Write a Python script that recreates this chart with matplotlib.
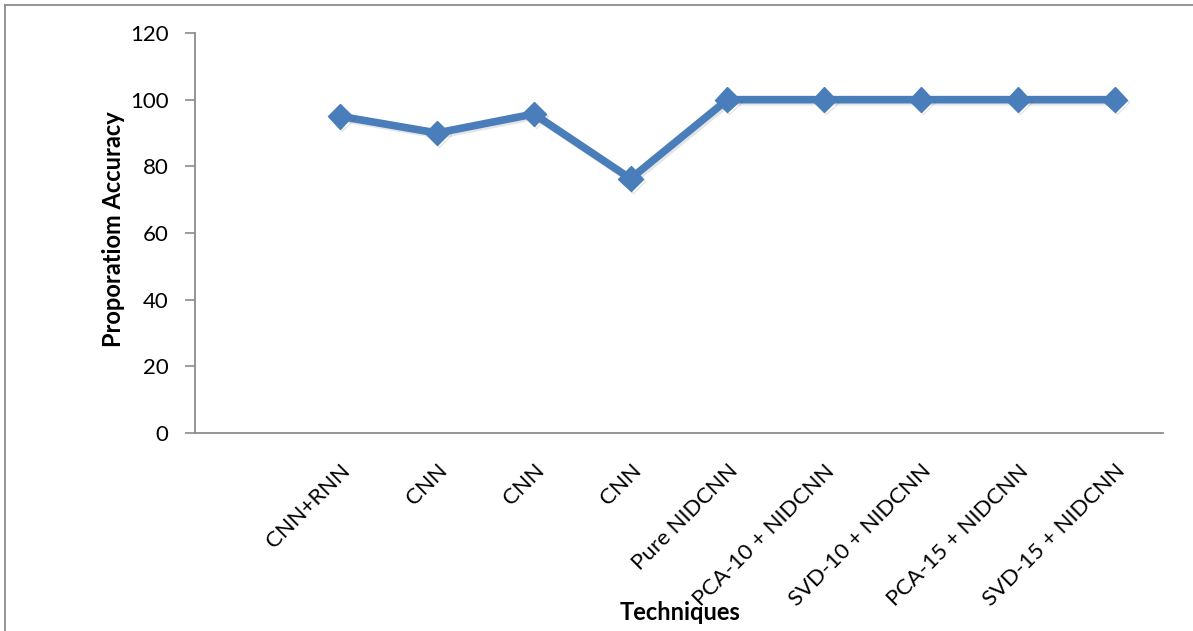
import matplotlib
matplotlib.use('Agg')
import matplotlib.pyplot as plt
import matplotlib.patheffects as pe
from matplotlib.lines import Line2D
from matplotlib.transforms import ScaledTranslation

# Datos (la primera categoría está vacía)
tecnicas = ['', 'CNN+RNN', 'CNN', 'CNN', 'CNN', 'Pure NIDCNN', 'PCA-10 + NIDCNN',
            'SVD-10 + NIDCNN', 'PCA-15 + NIDCNN', 'SVD-15 + NIDCNN']
precision = [None, 95, 90, 95.7, 76.3, 100, 100, 100, 100, 100]
y_ticks = [0, 20, 40, 60, 80, 100, 120]

plt.rcParams['font.family'] = ['Lato', 'DejaVu Sans']

fig = plt.figure(figsize=(11.93, 6.31), dpi=100)
ax = fig.add_axes([195 / 1193, 1 - 433 / 631, 968 / 1193, 400 / 631])

xs = [i for i, v in enumerate(precision) if v is not None]
ys = [v for v in precision if v is not None]
ax.plot(xs, ys, color='#4A7EBB', linewidth=5.5, marker='D', markersize=12.5,
        solid_joinstyle='miter',
        path_effects=[pe.SimpleLineShadow(offset=(1.5, -1.5), alpha=0.15, shadow_color='#555555'),
                      pe.Normal()])

ax.set_xlim(-0.5, len(tecnicas) - 0.5)
ax.set_ylim(0, 120)
ax.set_yticks(y_ticks)
ax.set_xticks(range(len(tecnicas)))
ax.set_xticklabels(tecnicas, rotation=45, ha='right', va='top',
                   rotation_mode='anchor', fontsize=16)
# desplazar las etiquetas un poco a la derecha, como en Excel
desplazamiento = ScaledTranslation(3 / 100, 0, fig.dpi_scale_trans)
for etiqueta in ax.get_xticklabels():
    etiqueta.set_transform(etiqueta.get_transform() + desplazamiento)

for s in ['top', 'right']:
    ax.spines[s].set_visible(False)
for s in ['left', 'bottom']:
    ax.spines[s].set_color('#8c8c8c')
    ax.spines[s].set_linewidth(1.3)

ax.tick_params(axis='y', direction='out', length=7, width=1.2, color='#8c8c8c',
               labelsize=16, pad=12)
ax.tick_params(axis='x', length=0, pad=20)

ax.set_ylabel('Proporatiom Accuracy', fontsize=17, fontweight='bold')
ax.yaxis.set_label_coords(-0.072, 0.51)
fig.text(680 / 1193, 1 - 612 / 631, 'Techniques', fontsize=17, fontweight='bold',
         ha='center', va='center')

# Marco del área del gráfico (solo borde izquierdo y superior visibles)
fig.add_artist(Line2D([5 / 1193, 5 / 1193], [0, 1 - 5 / 631], transform=fig.transFigure,
                      color='#8c8c8c', linewidth=1.3))
fig.add_artist(Line2D([5 / 1193, 1], [1 - 5 / 631, 1 - 5 / 631], transform=fig.transFigure,
                      color='#8c8c8c', linewidth=1.3))

plt.savefig('out.png', dpi=100)
